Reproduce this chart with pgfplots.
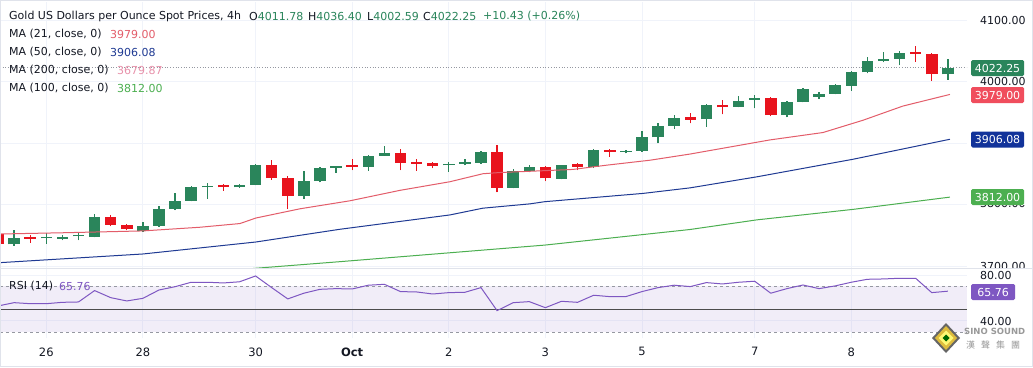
\documentclass[border=0pt]{standalone}
\usepackage{fontspec}
\setmainfont{DejaVu Sans}
\newfontfamily\cjk{Noto Sans CJK TC}
\usepackage{pgfplots}
\usepackage{pgfplotstable}
\pgfplotsset{compat=1.18}
\definecolor{upc}{HTML}{2A855B}
\definecolor{dnc}{HTML}{E8131D}
\definecolor{maA}{HTML}{E35D6A}
\definecolor{maAbox}{HTML}{F04D5D}
\definecolor{maB}{HTML}{1F3A93}
\definecolor{maBbox}{HTML}{12339A}
\definecolor{maC}{HTML}{4CAF50}
\definecolor{maD}{HTML}{E891AA}
\definecolor{rsic}{HTML}{7E57C2}
\definecolor{gridc}{HTML}{F0F3FA}
\definecolor{sepc}{HTML}{E0E3EB}
\definecolor{txt}{HTML}{131722}
\definecolor{dashc}{HTML}{9598A1}

\pgfplotstableread{
i O H L C
1 3735.3 3758.5 3733 3746
3 3745 3753 3736 3747
4 3744.5 3751 3742 3747.7
5 3748 3753 3742 3750
6 3747.7 3784 3746.7 3779.2
9 3757 3771 3755.8 3765.5
10 3765.5 3798 3764 3793
11 3792.7 3818 3791 3806
12 3806 3830 3805 3828.5
13 3828 3834.5 3809 3830.5
15 3828 3834 3827 3832
16 3831.7 3866.5 3831 3864.7
19 3814.3 3855 3809 3838.2
20 3838 3860.5 3836 3859
21 3859 3863 3852 3862
23 3861.5 3880 3854.5 3879.4
24 3879.4 3895 3879 3884
28 3863.5 3869.5 3853 3866.3
29 3866 3874.5 3864 3869
30 3868 3887 3866 3885.4
32 3827.3 3858 3826 3854.5
33 3855 3863.7 3852.3 3861.5
35 3841.5 3865 3841 3864.2
37 3861.5 3891 3860 3888.6
39 3885 3888 3883 3887.5
40 3887.5 3919.5 3885.5 3909.3
41 3909.3 3932 3899.5 3928.1
42 3928.1 3945 3922.8 3941.1
44 3938.5 3963.4 3926.5 3961.3
46 3959 3975.8 3958 3968.8
47 3970 3978 3956.4 3972.7
49 3945.5 3968.8 3942 3966.7
50 3966.7 3988.9 3966 3987.3
51 3975.3 3983.4 3971.5 3979
52 3979.7 3995.4 3979 3994.3
53 3993.2 4017 3985 4015
54 4015 4039.3 4013.3 4033.3
55 4033 4048.5 4031.7 4037.1
56 4036.6 4049.6 4026.8 4046.8
59 4011.78 4036.40 4002.59 4022.25
}\upt

\pgfplotstableread{
i O H L C
0 3752 3755 3732 3735
2 3747 3750 3738 3744
7 3779 3783 3765 3767
8 3767 3769 3758 3760
14 3831 3834 3822 3828
17 3864.7 3872 3840 3843
18 3843 3846 3792.7 3814.3
22 3863.5 3873.5 3856 3861
25 3884 3890 3856 3868
26 3868.5 3874 3855 3866.5
27 3867 3869 3859 3862.5
31 3885.4 3896.7 3819.8 3827.3
34 3861.5 3863 3838 3842.6
36 3865.3 3867 3856 3861.5
38 3888.6 3890 3878 3885.4
43 3941.5 3949 3932 3938
45 3962 3970 3946.7 3958
48 3972.7 3975.6 3943.6 3945.5
57 4047.5 4058.2 4032.2 4045.5
58 4044.7 4045.8 4001.3 4011.78
}\dnt

\pgfplotstableread{
k v
0.12 3752
4 3754
9.0 3757
12.55 3763
15.03 3769
16.02 3778
18.76 3793
21.86 3806
24.97 3823
28.07 3837
30.12 3850
31.18 3852
33.04 3854
35.71 3857
37.83 3864
40.5 3872
42.98 3882
47.95 3905
51.24 3917
53.73 3937
56.2 3960
59.13 3979
}\maa

\pgfplotstableread{
k v
0.12 3705.4
9.0 3719.5
16.02 3739
21.24 3759.7
28.07 3783
30.12 3794
33.04 3801
33.98 3804.6
40.06 3818
42.98 3827
47.14 3845
53.1 3873.5
59.13 3906.08
}\mab

\pgfplotstableread{
k v
12.55 3688
16.02 3696.3
21.24 3707
33.98 3734
42.98 3759.3
47.14 3775
53.1 3792
59.13 3812
}\mac

\pgfplotstableread{
k v
0 52.8
1 55.7
2 54.8
3 54.8
4 56
5 56.3
6 66.3
7 60.1
8 57.2
9 59.5
10 66.8
11 69.7
12 73.6
13 73.6
14 73
15 74
16 79.1
17 68.9
18 59
19 64
20 67.4
21 68
22 67.7
23 71
24 71.8
25 65.4
26 65.1
27 63.3
28 64.5
29 64.8
30 68.9
31 48.7
32 55.7
33 56.6
34 51.3
35 56.9
36 56
37 62.2
38 61
39 61
40 65.4
41 68.9
42 71
43 69.8
44 73.3
45 72.1
46 73.6
47 74.5
48 64
49 68
50 71.2
51 68
52 70.4
53 73.6
54 76.2
55 76.5
56 77.1
57 77.1
58 64.5
59 65.76
}\rsi

\pgfplotsset{
  tvaxis/.style={scale only axis, width=967pt, xmin=0.124, xmax=60.19,
    axis line style={draw=none}, major tick length=0pt,
    xtick={3,9,16,22,28,34,40,47,53},
    grid=major, grid style={draw=gridc, line width=0.8pt}},
  wick/.style={only marks, mark=*, mark size=0pt, mark options={draw=none, fill=none}, forget plot,
    error bars/.cd, y dir=plus, y explicit, error mark=none,
    error bar style={draw=#1, line width=1.3pt}},
  body/.style={only marks, mark=*, mark size=0pt, mark options={draw=none, fill=none}, forget plot,
    error bars/.cd, y dir=plus, y explicit, error mark=none,
    error bar style={draw=#1, line width=11.5pt}},
}

\newcommand\fs{\fontsize{11}{13}\selectfont}

\begin{document}
\begin{tikzpicture}
\fill[white] (0pt,0pt) rectangle (1033pt,-367pt);

% ---------- main price pane
\begin{axis}[tvaxis, at={(0pt,-2pt)}, anchor=north west, height=266pt,
  ymin=3696.7, ymax=4129.3, ytick={3700,3800,3900,4000,4100},
  xticklabels={}, yticklabels={}]
\addplot[draw=dashc, dotted, line width=0.7pt] coordinates {(0.124,4022.25) (60.19,4022.25)};
\addplot[wick=upc] table[x=i, y=L, y error plus expr=\thisrow{H}-\thisrow{L}] {\upt};
\addplot[wick=dnc] table[x=i, y=L, y error plus expr=\thisrow{H}-\thisrow{L}] {\dnt};
\addplot[body=upc] table[x=i, y=O, y error plus expr=\thisrow{C}-\thisrow{O}] {\upt};
\addplot[body=dnc] table[x=i, y=C, y error plus expr=\thisrow{O}-\thisrow{C}] {\dnt};
\addplot[draw=maC, line width=1pt] table[x=k, y=v] {\mac};
\addplot[draw=maB, line width=1pt] table[x=k, y=v] {\mab};
\addplot[draw=maA, line width=1pt] table[x=k, y=v] {\maa};
\end{axis}

% ---------- RSI pane
\begin{axis}[tvaxis, at={(0pt,-268pt)}, anchor=north west, height=70pt,
  ymin=24.7, ymax=86.1, ytick={40,80}, yticklabels={},
  xticklabels={26,28,30,\textbf{Oct},2,3,5,7,8},
  xticklabel style={font=\fontsize{11.5}{13}\selectfont, text=txt, yshift=-6pt}]
\fill[rsic, fill opacity=0.1] (axis cs:0.124,30) rectangle (axis cs:60.19,70);
\addplot[draw=dashc, dashed, line width=0.7pt] coordinates {(0.124,70) (60.19,70)};
\addplot[draw=dashc, dashed, line width=0.7pt] coordinates {(0.124,30) (60.19,30)};
\addplot[draw=black!70, line width=1pt] coordinates {(0.124,50) (60.19,50)};
\addplot[draw=rsic, line width=1pt] table[x=k, y=v] {\rsi};
\end{axis}

\begin{scope}[x=1pt, y=1pt]
\draw[sepc, line width=1pt] (0,-268) -- (1033,-268);
% header
\node[anchor=west, inner sep=0, text=txt, font=\fs] at (9,-16) {Gold US Dollars per Ounce Spot Prices, 4h};
\node[anchor=west, inner sep=0, font=\fs] at (249,-16) {\textcolor{txt}{O}\textcolor{upc}{4011.78}};
\node[anchor=west, inner sep=0, font=\fs] at (308,-16) {\textcolor{txt}{H}\textcolor{upc}{4036.40}};
\node[anchor=west, inner sep=0, font=\fs] at (367,-16) {\textcolor{txt}{L}\textcolor{upc}{4002.59}};
\node[anchor=west, inner sep=0, font=\fs] at (423,-16) {\textcolor{txt}{C}\textcolor{upc}{4022.25}};
\node[anchor=west, inner sep=0, font=\fs, text=upc] at (483,-16) {+10.43 (+0.26\%)};
\node[anchor=west, inner sep=0, text=txt, font=\fs] at (9,-34) {MA (21, close, 0)};
\node[anchor=west, inner sep=0, text=maA, font=\fs] at (110,-34) {3979.00};
\node[anchor=west, inner sep=0, text=txt, font=\fs] at (9,-52) {MA (50, close, 0)};
\node[anchor=west, inner sep=0, text=maB, font=\fs] at (110,-52) {3906.08};
\node[anchor=west, inner sep=0, text=txt, font=\fs] at (9,-70) {MA (200, close, 0)};
\node[anchor=west, inner sep=0, text=maD, font=\fs] at (117,-70) {3679.87};
\node[anchor=west, inner sep=0, text=txt, font=\fs] at (9,-88) {MA (100, close, 0)};
\node[anchor=west, inner sep=0, text=maC, font=\fs] at (117,-88) {3812.00};
\node[anchor=west, inner sep=0, text=txt, font=\fs] at (9,-286) {RSI (14)};
\node[anchor=west, inner sep=0, text=rsic, font=\fs] at (59,-286) {65.76};
% price scale
\node[anchor=west, inner sep=0, text=txt, font=\fs] at (980,-20) {4100.00};
\node[anchor=west, inner sep=0, text=txt, font=\fs] at (980,-81) {4000.00};
\begin{scope}
\clip (965,-205.5) rectangle (1033,-215);
\node[anchor=west, inner sep=0, text=txt, font=\fs] at (980,-203) {3800.00};
\end{scope}
\begin{scope}
\clip (965,-250) rectangle (1033,-267.5);
\node[anchor=west, inner sep=0, text=txt, font=\fs] at (980,-266) {3700.00};
\end{scope}
\fill[upc, rounded corners=1.5] (971,-60) rectangle (1024,-76);
\node[text=white, font=\fs, inner sep=0] at (997.5,-68) {4022.25};
\fill[maAbox, rounded corners=1.5] (971,-87) rectangle (1024,-103);
\node[text=white, font=\fs, inner sep=0] at (997.5,-95) {3979.00};
\fill[maBbox, rounded corners=1.5] (971,-131.5) rectangle (1024,-147.5);
\node[text=white, font=\fs, inner sep=0] at (997.5,-139.5) {3906.08};
\fill[maC, rounded corners=1.5] (971,-189) rectangle (1024,-205);
\node[text=white, font=\fs, inner sep=0] at (997.5,-197) {3812.00};
% RSI scale
\node[anchor=west, inner sep=0, text=txt, font=\fs] at (980,-275) {80.00};
\node[anchor=west, inner sep=0, text=txt, font=\fs] at (980,-321) {40.00};
\fill[rsic, rounded corners=1.5] (971,-284) rectangle (1015,-300);
\node[text=white, font=\fs, inner sep=0] at (993,-292) {65.76};
% watermark
\fill[black!60] (946,-323) -- (960,-338) -- (946,-353) -- (932,-338) -- cycle;
\fill[yellow!45!brown] (946,-326) -- (957,-338) -- (946,-350) -- (935,-338) -- cycle;
\fill[yellow!55!white] (946,-330.5) -- (953.5,-338) -- (946,-345.5) -- (938.5,-338) -- cycle;
\fill[green!40!black] (946,-334.5) -- (949.5,-338) -- (946,-341.5) -- (942.5,-338) -- cycle;
\node[anchor=west, inner sep=0, text=black!40, font=\bfseries\fontsize{8.5}{9}\selectfont] at (964,-331) {SINO SOUND};
\node[anchor=west, inner sep=0, text=black!40, font=\cjk\fontsize{9}{10}\selectfont] at (966,-345) {漢\hspace{6pt}聲\hspace{6pt}集\hspace{6pt}團};
\draw[sepc, line width=0.8pt] (0.4,-0.4) rectangle (1032.6,-366.6);
\end{scope}
\pgfresetboundingbox
\useasboundingbox (0pt,0pt) rectangle (1033pt,-367pt);
\end{tikzpicture}
\end{document}
